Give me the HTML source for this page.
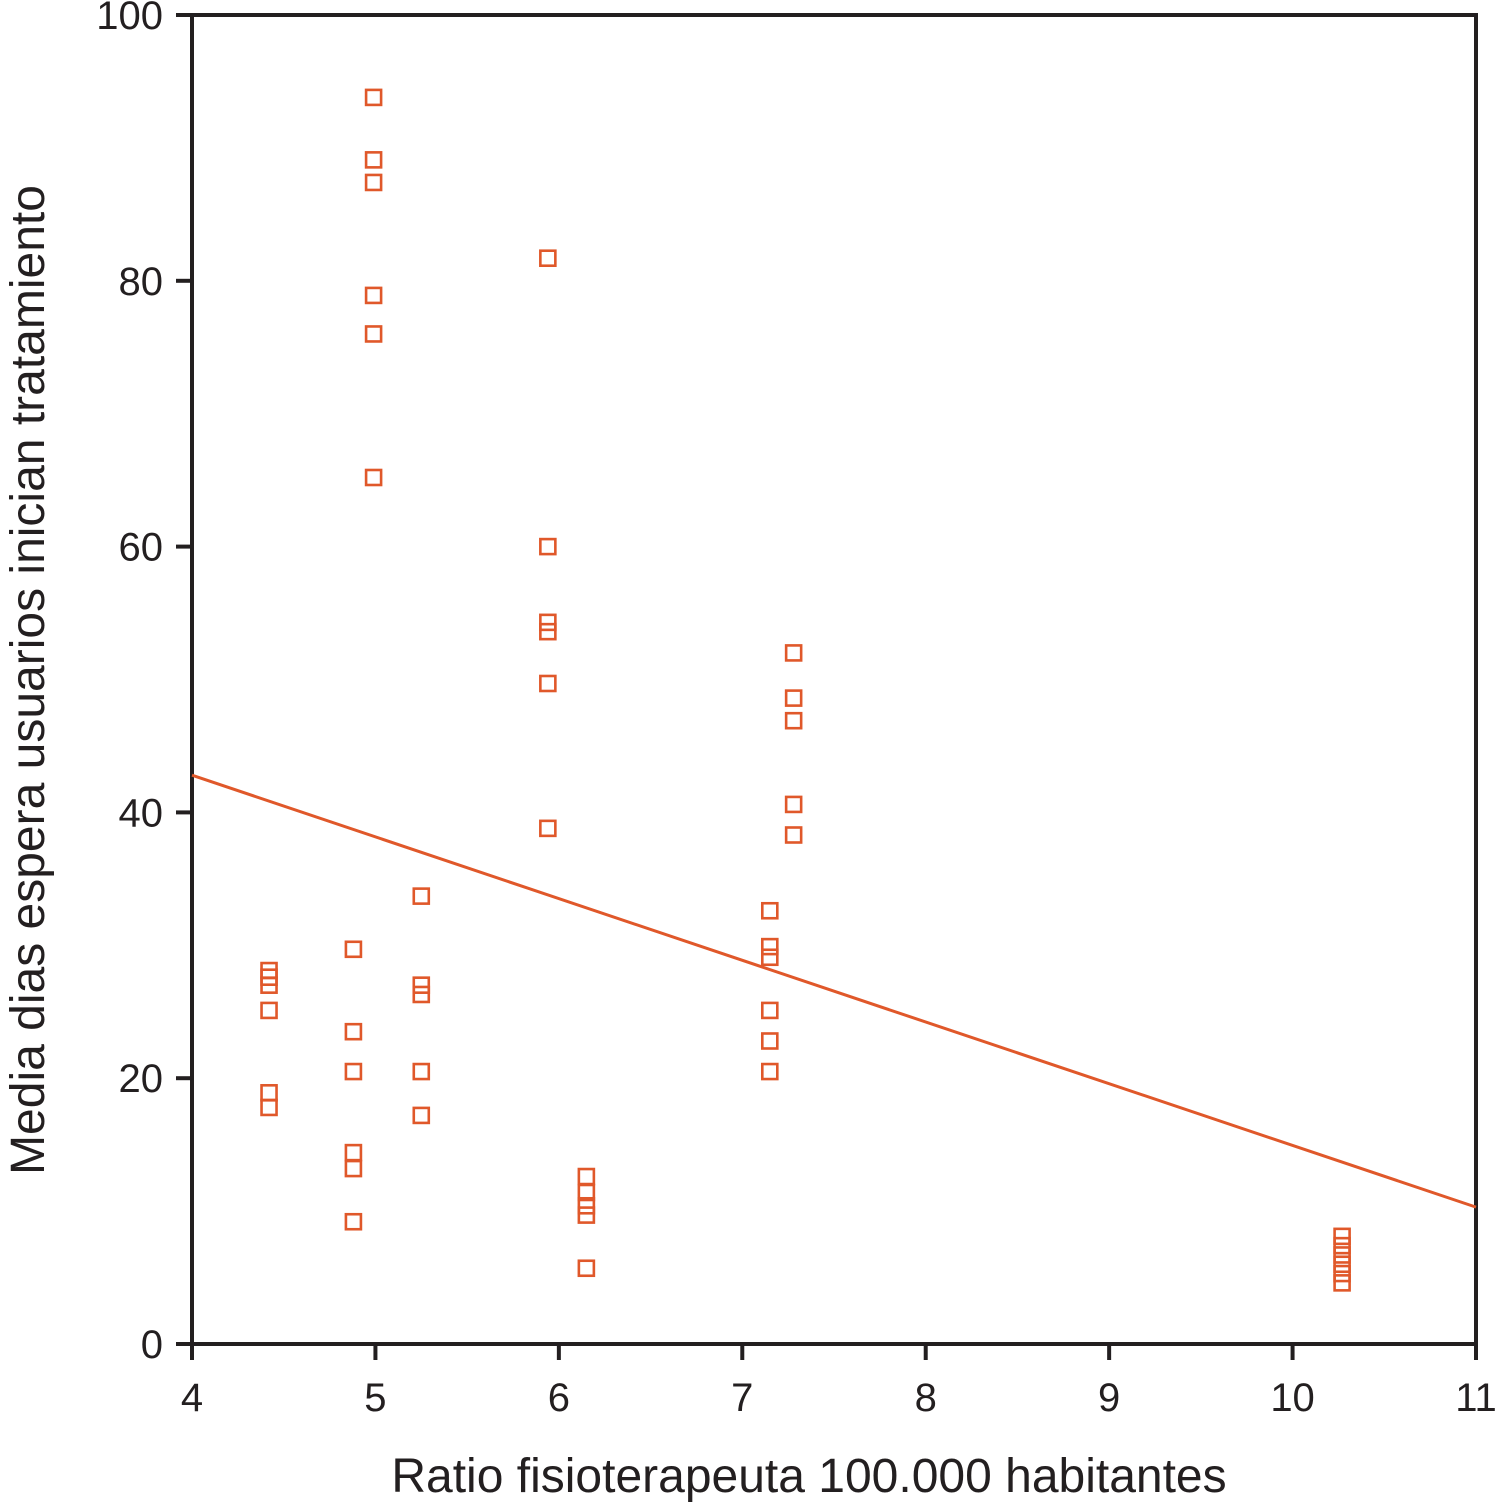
<!DOCTYPE html>
<html><head><meta charset="utf-8"><style>
html,body{margin:0;padding:0;background:#fff;}
svg{display:block;font-family:"Liberation Sans",Arial,sans-serif;}
</style></head><body>
<svg id="chart" width="1499" height="1504" viewBox="0 0 1499 1504" xmlns="http://www.w3.org/2000/svg"></svg>
<script>
const xs = [4.42,4.42,4.42,4.42,4.42,4.42, 4.88,4.88,4.88,4.88,4.88,4.88, 4.99,4.99,4.99,4.99,4.99,4.99, 5.25,5.25,5.25,5.25,5.25, 5.94,5.94,5.94,5.94,5.94,5.94, 6.15,6.15,6.15,6.15,6.15, 7.15,7.15,7.15,7.15,7.15,7.15, 7.28,7.28,7.28,7.28,7.28, 10.27,10.27,10.27,10.27,10.27,10.27];
const ys = [28.1,27.6,27.0,25.1,18.9,17.8, 29.7,23.5,20.5,14.4,13.2,9.2, 93.8,89.1,87.4,78.9,76.0,65.2, 33.7,27.0,26.3,20.5,17.2, 81.7,60.0,54.3,53.6,49.7,38.8, 12.6,11.4,10.4,9.7,5.7, 32.6,29.9,29.1,25.1,22.8,20.5, 52.0,48.6,46.9,40.6,38.3, 8.1,7.4,6.7,6.0,5.3,4.6];
const lineX = [4, 11];
const lineY = [42.8, 10.3];
const xTicks = [4,5,6,7,8,9,10,11];
const yTicks = [0,20,40,60,80,100];

const X0=192,X1=1476,Y0=1344,Y1=15;
const sx=v=>X0+(v-4)/7*(X1-X0);
const sy=v=>Y0-(v/100)*(Y0-Y1);
const svg=document.getElementById('chart');
const NS='http://www.w3.org/2000/svg';
function mk(t,a){const e=document.createElementNS(NS,t);for(const k in a)e.setAttribute(k,a[k]);svg.appendChild(e);return e;}
const C='#e0582a', K='#231f20';

const frame=mk('rect',{x:X0,y:Y1,width:X1-X0,height:Y0-Y1,fill:'none',stroke:K,'stroke-width':4});



yTicks.forEach(v=>{
  const t=mk('line',{x1:176,x2:X0,y1:sy(v),y2:sy(v),stroke:K,'stroke-width':4});
  
  
  const l=mk('text',{x:163,y:sy(v)+14,'text-anchor':'end','font-size':40,fill:K});
  l.textContent=v;
  
  
});
xTicks.forEach(v=>{
  const t=mk('line',{x1:sx(v),x2:sx(v),y1:Y0,y2:1360,stroke:K,'stroke-width':4});
  
  
  const l=mk('text',{x:sx(v),y:1411,'text-anchor':'middle','font-size':40,fill:K});
  l.textContent=v;
  
  
});

const rl=mk('line',{x1:sx(lineX[0]),y1:sy(lineY[0]),x2:sx(lineX[1]),y2:sy(lineY[1]),stroke:C,'stroke-width':3});



xs.forEach((x,i)=>{
  const p=mk('rect',{x:sx(x)-7.5,y:sy(ys[i])-7.5,width:15,height:15,fill:'none',stroke:C,'stroke-width':2.6});
  
  
});

const xt=mk('text',{x:809,y:1492,'text-anchor':'middle','font-size':48,fill:K});
xt.textContent='Ratio fisioterapeuta 100.000 habitantes';


const yt=mk('text',{x:0,y:0,'text-anchor':'middle','font-size':48,fill:K,transform:'translate(44,680) rotate(-90)'});
yt.textContent='Media dias espera usuarios inician tratamiento';


</script>
</body></html>
